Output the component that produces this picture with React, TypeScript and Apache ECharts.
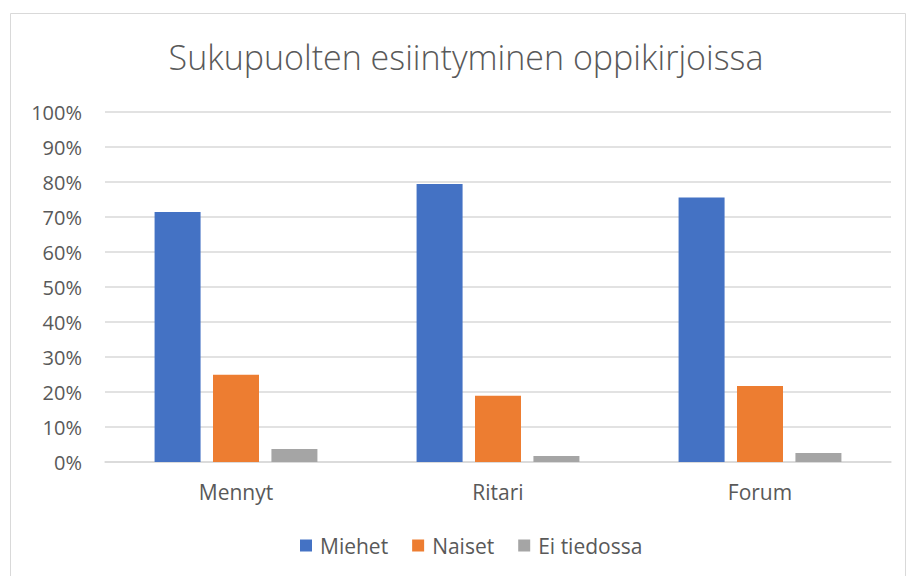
import React, { useEffect, useRef } from "react";
import * as echarts from "echarts";

const categories = ["Mennyt", "Ritari", "Forum"];
const miehet = [71.4, 79.4, 75.6];
const naiset = [24.9, 18.9, 21.7];
const eiTiedossa = [3.7, 1.7, 2.6];
const seriesNames = ["Miehet", "Naiset", "Ei tiedossa"];
const colors = ["#4472C4", "#ED7D31", "#A5A5A5"];

const FONT = "Open Sans";

export default function App() {
  const ref = useRef<HTMLDivElement>(null);
  useEffect(() => {
    if (!ref.current) return;
    const chart = echarts.init(ref.current, null, { renderer: "svg" });
    const values = [miehet, naiset, eiTiedossa];
    chart.setOption({
      animation: false,
      backgroundColor: "#ffffff",
      title: {
        text: "Sukupuolten esiintyminen oppikirjoissa",
        left: 461,
        textAlign: "center",
        top: 35,
        textStyle: {
          fontFamily: FONT,
          fontSize: 34,
          fontWeight: 300,
          color: "#595959",
        },
      },
      legend: {
        bottom: 15,
        left: 295,
        itemWidth: 12,
        itemHeight: 12,
        itemGap: 24,
        icon: "rect",
        textStyle: { fontFamily: FONT, fontSize: 21, color: "#595959", padding: [0, 0, 0, 3] },
        data: seriesNames,
      },
      grid: { left: 105, right: 17, top: 112, bottom: 114 },
      xAxis: {
        type: "category",
        data: categories,
        axisLine: { lineStyle: { color: "#d9d9d9", width: 1.5 } },
        axisTick: { show: false },
        axisLabel: { fontFamily: FONT, fontSize: 21, color: "#595959", margin: 19 },
      },
      yAxis: {
        type: "value",
        min: 0,
        max: 100,
        interval: 10,
        axisLine: { show: false },
        axisTick: { show: false },
        splitLine: { lineStyle: { color: "#d9d9d9", width: 1.5 } },
        axisLabel: {
          fontFamily: FONT,
          fontSize: 20,
          color: "#595959",
          margin: 23,
          formatter: (v: number) => v + "%",
        },
      },
      series: seriesNames.map((name, i) => ({
        name,
        type: "bar",
        data: values[i],
        barWidth: 46,
        barGap: "27%",
        itemStyle: { color: colors[i] },
      })),
      graphic: [
        {
          type: "rect",
          shape: { x: 10.5, y: 13.5, width: 895, height: 600 },
          style: { fill: "none", stroke: "#d9d9d9", lineWidth: 1 },
          silent: true,
        },
      ],
    });
    return () => chart.dispose();
  }, []);
  return <div ref={ref} style={{ width: 908, height: 576, position: "absolute", left: 0, top: 0 }} />;
}
